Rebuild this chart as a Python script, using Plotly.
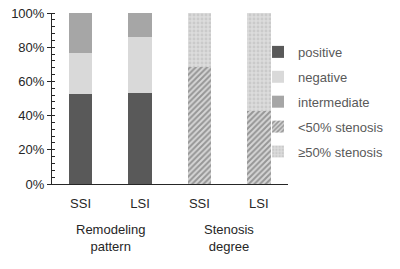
import plotly.graph_objects as go

positions = [0, 1, 2, 3]
tick_labels = ["SSI", "LSI", "SSI", "LSI"]
group_labels = ["Remodeling<br>pattern", "Stenosis<br>degree"]
group_pos = [0.5, 2.5]

positive = [0.526, 0.534]
negative = [0.238, 0.324]
intermediate = [0.236, 0.142]
lt50 = [0.685, 0.426]
ge50 = [0.315, 0.574]

FONT = "Liberation Sans, Arial, sans-serif"
fig = go.Figure()
w = 0.4
fig.add_bar(x=positions[:2], y=positive, name="positive", width=w, legendgroup="a",
            marker=dict(color="#595959", line=dict(width=0)))
fig.add_bar(x=positions[:2], y=negative, name="negative", width=w, legendgroup="b",
            marker=dict(color="#d9d9d9", line=dict(width=0)))
fig.add_bar(x=positions[:2], y=intermediate, name="intermediate", width=w, legendgroup="c",
            marker=dict(color="#a6a6a6", line=dict(width=0)))
fig.add_bar(x=positions[2:], y=lt50, name="<50% stenosis", width=w, legendgroup="d",
            marker=dict(color="#7f7f7f", line=dict(width=0),
                        pattern=dict(shape="/", fgcolor="#555555", bgcolor="#d6d6d6",
                                     size=4, solidity=0.5)))
fig.add_bar(x=positions[2:], y=ge50, name="≥50% stenosis", width=w, legendgroup="e",
            marker=dict(color="#d4d4d4", line=dict(width=0),
                        pattern=dict(shape=".", fgcolor="#b8b8b8", bgcolor="#dcdcdc",
                                     size=4, solidity=0.4)))

for gx, gl in zip(group_pos, group_labels):
    fig.add_annotation(x=gx, xref="x", y=-0.213, yref="paper", text=gl,
                       showarrow=False, yanchor="top",
                       font=dict(family=FONT, size=13, color="#262626"))

fig.update_layout(
    width=400, height=269, barmode="stack",
    margin=dict(l=52, r=112, t=13, b=85, autoexpand=False),
    plot_bgcolor="white", paper_bgcolor="white",
    font=dict(family=FONT, size=13, color="#262626"),
    showlegend=True,
    legend=dict(x=0.873, y=0.86, xanchor="left", yanchor="top",
                traceorder="grouped", itemwidth=30,
                font=dict(family=FONT, size=13, color="#595959"),
                tracegroupgap=5, bgcolor="rgba(0,0,0,0)"),
    xaxis=dict(range=[-0.48, 3.49], tickvals=positions, ticktext=tick_labels,
               automargin=False,
               showgrid=False, zeroline=False, showline=True, linecolor="#262626",
               linewidth=1, ticks="", ticklabelstandoff=7,
               tickfont=dict(size=13, color="#262626")),
    yaxis=dict(range=[0, 1], tickvals=[0, 0.2, 0.4, 0.6, 0.8, 1.0],
               automargin=False,
               tickformat=".0%", showgrid=False, zeroline=False,
               showline=True, linecolor="#262626", linewidth=1,
               ticks="outside", ticklen=4, tickcolor="#262626",
               minor=dict(dtick=0.04, ticks="inside", ticklen=3, tickcolor="#262626"),
               tickfont=dict(size=13, color="#262626")),
)

fig.write_html("out.html", config={"displayModeBar": False},
               post_script="document.body.style.margin='0px';")
